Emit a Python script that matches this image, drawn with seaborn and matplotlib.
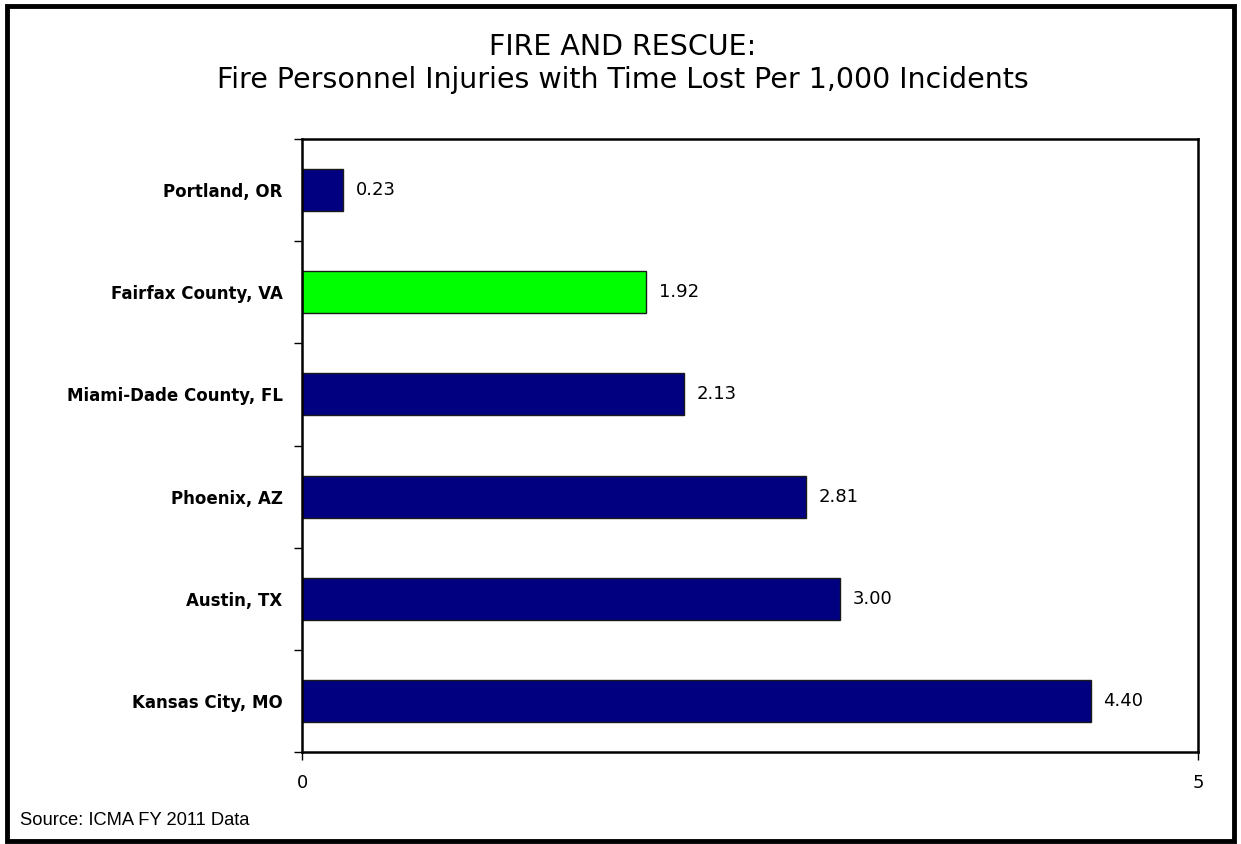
import matplotlib
matplotlib.use("Agg")
import matplotlib.pyplot as plt
import seaborn as sns
import numpy as np
import pandas as pd
from matplotlib.patches import Rectangle

cities = ["Portland, OR", "Fairfax County, VA", "Miami-Dade County, FL",
          "Phoenix, AZ", "Austin, TX", "Kansas City, MO"]
values = [0.23, 1.92, 2.13, 2.81, 3.00, 4.40]
bar_colors = ["#000080", "#00FF00", "#000080", "#000080", "#000080", "#000080"]
x_ticks = [0, 5]

sns.set_style("white")
plt.rcParams["font.family"] = ["DejaVu Sans"]
plt.rcParams["text.color"] = "black"
plt.rcParams["xtick.color"] = "black"
plt.rcParams["ytick.color"] = "black"

df = pd.DataFrame({"city": cities, "value": values})

fig = plt.figure(figsize=(12.41, 8.44), dpi=100)
ax = fig.add_axes([0.2434, 0.1090, 0.7220, 0.7263])

sns.barplot(data=df, x="value", y="city", hue="city", palette=bar_colors,
            order=cities, width=0.41, saturation=1, edgecolor="#1a1a1a",
            linewidth=1, legend=False, ax=ax)

ax.set_xlim(0, 5)
ax.set_ylim(len(cities) - 0.5, -0.5)
ax.set_xticks(x_ticks)
ax.set_xticklabels([str(t) for t in x_ticks], fontsize=13)
ax.set_yticks(range(len(cities)))
ax.set_yticklabels(cities, fontsize=12, fontweight="bold")
ax.set_yticks(np.arange(-0.5, len(cities)), minor=True)
ax.tick_params(axis="y", which="major", length=0, pad=14)
ax.tick_params(axis="y", which="minor", length=6, width=1, direction="out", left=True)
ax.tick_params(axis="x", length=6, width=1, direction="out", bottom=True, pad=10)
ax.set_xlabel("")
ax.set_ylabel("")
for side in ax.spines.values():
    side.set_visible(True)
    side.set_color("black")
    side.set_linewidth(1.8)

for i, v in enumerate(values):
    ax.text(v + 0.07, i, f"{v:.2f}", va="center", ha="left", fontsize=13)

fig.text(0.502, 0.944, "FIRE AND RESCUE:", ha="center", va="center", fontsize=20.5)
fig.text(0.502, 0.905, "Fire Personnel Injuries with Time Lost Per 1,000 Incidents",
         ha="center", va="center", fontsize=20.5)
fig.text(0.016, 0.028, "Source: ICMA FY 2011 Data", ha="left", va="center",
         fontsize=13.2, family=["Liberation Sans", "DejaVu Sans"])

fig.patches.append(Rectangle((0.006, 0.003), 0.988, 0.990, transform=fig.transFigure,
                             fill=False, edgecolor="black", linewidth=3.5))

fig.savefig("out.png", dpi=100)
